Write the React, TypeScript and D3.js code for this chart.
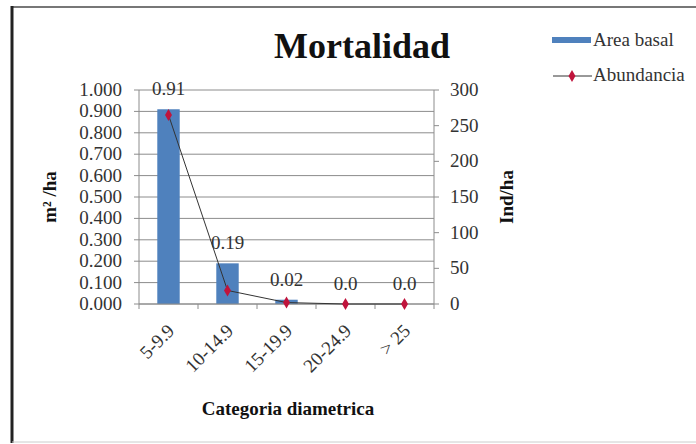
import React from "react";
import * as d3 from "d3";

const categories = ["5-9.9", "10-14.9", "15-19.9", "20-24.9", "> 25"];
const areaBasal = [0.91, 0.19, 0.02, 0.0, 0.0];
const areaLabels = ["0.91", "0.19", "0.02", "0.0", "0.0"];
const abundancia = [265, 19, 2, 0, 0];
const leftTicks = [0, 0.1, 0.2, 0.3, 0.4, 0.5, 0.6, 0.7, 0.8, 0.9, 1.0];
const rightTicks = [0, 50, 100, 150, 200, 250, 300];

const W = 696;
const H = 444;
const FONT = "Liberation Serif, Times New Roman, serif";

export default function App() {
  const left = 139;
  const right = 434;
  const top = 90;
  const bottom = 304;
  const x = d3.scaleBand<string>().domain(categories).range([left, right]).paddingInner(0).paddingOuter(0);
  const yL = d3.scaleLinear().domain([0, 1]).range([bottom, top]);
  const yR = d3.scaleLinear().domain([0, 300]).range([bottom, top]);
  const bw = x.bandwidth() * 0.38;
  const cx = (c: string) => (x(c) as number) + x.bandwidth() / 2;
  const line = d3
    .line<number>()
    .x((_, i) => cx(categories[i]))
    .y((d) => yR(d));
  const diamond = d3.symbol().type(d3.symbolDiamond).size(42)() as string;
  const gridColor = "#8c8c8c";
  const textColor = "#333";

  return (
    <svg width={W} height={H} style={{ position: "absolute", left: 0, top: 0, background: "#fff", fontFamily: FONT }}>
      <rect x={0} y={0} width={W} height={H} fill="#fff" />
      {/* frame */}
      <line x1={12} y1={7} x2={W} y2={7} stroke="#777" strokeWidth={2} />
      <line x1={12} y1={6} x2={12} y2={443} stroke="#222" strokeWidth={3} />
      <line x1={12} y1={442} x2={W} y2={442} stroke="#ccc" strokeWidth={1} />

      {/* title */}
      <text x={362} y={58} textAnchor="middle" fontSize={36} fontWeight="bold" fill="#111">
        Mortalidad
      </text>

      {/* gridlines */}
      {leftTicks.map((t) => (
        <line key={"g" + t} x1={left} x2={right} y1={yL(t)} y2={yL(t)} stroke={gridColor} strokeWidth={1} />
      ))}

      {/* bars */}
      {areaBasal.map((v, i) => (
        <rect
          key={"b" + i}
          x={cx(categories[i]) - bw / 2}
          y={yL(v)}
          width={bw}
          height={bottom - yL(v)}
          fill="#4F81BD"
        />
      ))}

      {/* axes */}
      <line x1={left} x2={left} y1={top} y2={bottom} stroke={gridColor} />
      <line x1={right} x2={right} y1={top} y2={bottom} stroke={gridColor} />
      <line x1={left} x2={right} y1={bottom} y2={bottom} stroke={gridColor} />
      {leftTicks.map((t) => (
        <g key={"lt" + t}>
          <line x1={left - 5} x2={left} y1={yL(t)} y2={yL(t)} stroke={gridColor} />
          <text x={122} y={yL(t) + 6} textAnchor="end" fontSize={19} fill={textColor}>
            {t.toFixed(3)}
          </text>
        </g>
      ))}
      {rightTicks.map((t) => (
        <g key={"rt" + t}>
          <line x1={right} x2={right + 5} y1={yR(t)} y2={yR(t)} stroke={gridColor} />
          <text x={450} y={yR(t) + 6} textAnchor="start" fontSize={19} fill={textColor}>
            {t}
          </text>
        </g>
      ))}
      {categories.map((c, i) => (
        <line key={"xt" + i} x1={x(c) as number} x2={x(c) as number} y1={bottom} y2={bottom + 5} stroke={gridColor} />
      ))}
      <line x1={right} x2={right} y1={bottom} y2={bottom + 5} stroke={gridColor} />

      {/* category labels */}
      {categories.map((c) => (
        <text
          key={"xl" + c}
          transform={`translate(${cx(c) + 7},${bottom + 28}) rotate(-45)`}
          textAnchor="end"
          fontSize={19}
          fill={textColor}
        >
          {c}
        </text>
      ))}

      {/* data labels */}
      {areaBasal.map((v, i) => (
        <text key={"dl" + i} x={cx(categories[i])} y={yL(v) - 14} textAnchor="middle" fontSize={19} fill={textColor}>
          {areaLabels[i]}
        </text>
      ))}

      {/* line */}
      <path d={line(abundancia) as string} fill="none" stroke="#333" strokeWidth={1} />
      {abundancia.map((v, i) => (
        <path key={"m" + i} d={diamond} transform={`translate(${cx(categories[i])},${yR(v)})`} fill="#C0143C" />
      ))}

      {/* axis titles */}
      <text transform="translate(56,197) rotate(-90)" textAnchor="middle" fontSize={19} fontWeight="bold" fill="#111">
        m² /ha
      </text>
      <text transform="translate(513,197) rotate(-90)" textAnchor="middle" fontSize={19} fontWeight="bold" fill="#111">
        Ind/ha
      </text>
      <text x={288} y={415} textAnchor="middle" fontSize={19} fontWeight="bold" fill="#111">
        Categoria diametrica
      </text>

      {/* legend */}
      <rect x={552} y={37} width={39} height={6} fill="#4F81BD" />
      <text x={593} y={46} fontSize={19} fill={textColor}>
        Area basal
      </text>
      <line x1={553} x2={592} y1={76} y2={76} stroke="#333" strokeWidth={1} />
      <path d={diamond} transform="translate(572,76)" fill="#C0143C" />
      <text x={593} y={81} fontSize={19} fill={textColor}>
        Abundancia
      </text>
    </svg>
  );
}
